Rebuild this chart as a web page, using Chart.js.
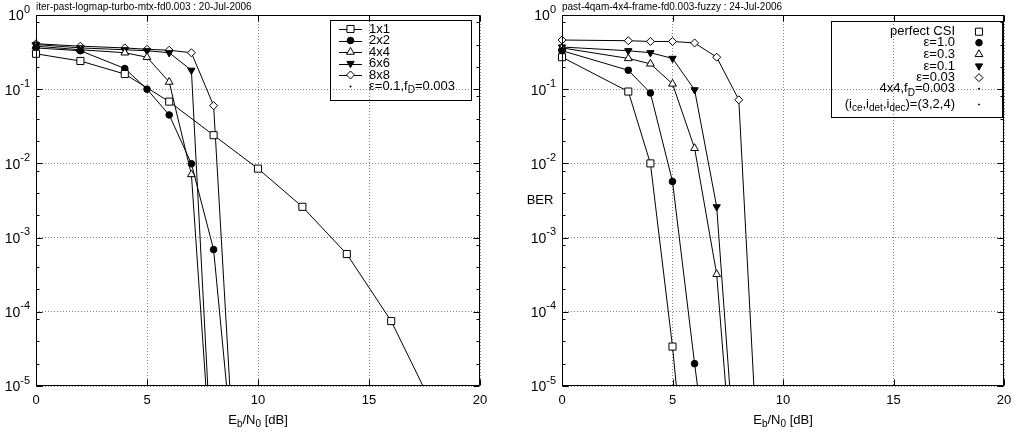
<!doctype html>
<meta charset="utf-8">
<style>
    html, body { margin: 0; padding: 0; background: #fff; }
    #wrap { position: relative; width: 1020px; height: 434px; }
    canvas { position: absolute; top: 0; }
    #left { left: 0; }
    #right { left: 510px; }
</style>
<div id="wrap">
    <canvas id="left" width="510" height="434"></canvas>
    <canvas id="right" width="510" height="434"></canvas>
</div>
<script src="https://cdn.jsdelivr.net/npm/chart.js@4.4.8/dist/chart.umd.min.js"></script>
<script>
    // left panel: MIMO sizes, eps=0.1, fD=0.003
    const snrLeft = [0, 2, 4, 5, 6, 7, 8, 9];
    const snr1x1 = [0, 2, 4, 6, 8, 10, 12, 14, 16, 18];
    const ber1x1 = [0.30, 0.24, 0.16, 0.068, 0.024, 0.0085, 0.0026, 0.0006, 0.000075, 0.0000045];
    const ber2x2 = [0.36, 0.33, 0.19, 0.10, 0.045, 0.0099, 0.00069, 5e-7];
    const ber4x4 = [0.38, 0.34, 0.31, 0.27, 0.125, 0.0071, 3e-7];
    const ber6x6 = [0.40, 0.36, 0.34, 0.33, 0.31, 0.18, 3e-7];
    const ber8x8 = [0.41, 0.38, 0.36, 0.345, 0.335, 0.31, 0.06, 4e-7];

    // right panel: 4x4 with channel estimation error eps
    const snrRight = [0, 3, 4, 5, 6, 7, 8, 9];
    const berPerfect = [0.27, 0.093, 0.010, 3.4e-5, 3e-8];
    const berEps10 = [0.33, 0.18, 0.089, 0.0057, 2e-5, 1e-7];
    const berEps03 = [0.36, 0.26, 0.22, 0.118, 0.016, 3.2e-4, 6e-8];
    const berEps01 = [0.37, 0.33, 0.31, 0.26, 0.098, 2.6e-3, 2e-7];
    const berEps003 = [0.46, 0.45, 0.44, 0.44, 0.42, 0.27, 0.072, 1.6e-7];

    const berTicks = [1, 1e-1, 1e-2, 1e-3, 1e-4, 1e-5];
    const berTickLabels = ["10^{0}", "10^{-1}", "10^{-2}", "10^{-3}", "10^{-4}", "10^{-5}"];
    const snrTicks = [0, 5, 10, 15, 20];

    const labelsLeft = ["1x1", "2x2", "4x4", "6x6", "8x8", "ε=0.1,f_{D}=0.003"];
    const labelsRight = ["perfect CSI", "ε=1.0", "ε=0.3", "ε=0.1", "ε=0.03", "4x4,f_{D}=0.003", "(i_{ce},i_{det},i_{dec})=(3,2,4)"];

    const FONT = '"Liberation Sans", Arial, sans-serif';
    const markers = {
        square: {pointStyle: "rect", radius: 5, rotation: 0, fill: "#fff"},
        circle: {pointStyle: "circle", radius: 3.3, rotation: 0, fill: "#000"},
        triUp: {pointStyle: "triangle", radius: 4.5, rotation: 0, fill: "#fff"},
        triDown: {pointStyle: "triangle", radius: 4.2, rotation: 180, fill: "#000"},
        diamond: {pointStyle: "rectRot", radius: 4, rotation: 0, fill: "#fff"},
        dot: {pointStyle: "circle", radius: 0.6, rotation: 0, fill: "#000"}
    };

    function pts(xs, ys) {
        return ys.map((y, i) => ({x: xs[i], y}));
    }

    function parseRich(str) {
        const parts = [];
        str.split(/(_\{[^}]*\}|\^\{[^}]*\})/).forEach(s => {
            if (!s) return;
            if (s[0] === "_") parts.push({t: s.slice(2, -1), sub: true});
            else if (s[0] === "^") parts.push({t: s.slice(2, -1), sup: true});
            else parts.push({t: s});
        });
        return parts;
    }

    function drawRich(ctx, str, x, y, align, size) {
        const parts = parseRich(str);
        const small = Math.round(size * 0.75);
        let w = 0;
        parts.forEach(p => {
            ctx.font = (p.sub || p.sup ? small : size) + "px " + FONT;
            p.w = ctx.measureText(p.t).width;
            w += p.w;
        });
        let cx = align === "right" ? x - w : align === "center" ? x - w / 2 : x;
        ctx.textAlign = "left";
        ctx.textBaseline = "middle";
        ctx.fillStyle = "#000";
        parts.forEach(p => {
            ctx.font = (p.sub || p.sup ? small : size) + "px " + FONT;
            const dy = p.sub ? size * 0.32 : p.sup ? -size * 0.5 : 0;
            ctx.fillText(p.t, cx, y + dy);
            cx += p.w;
        });
    }

    function drawMarker(ctx, m, x, y) {
        ctx.save();
        ctx.fillStyle = m.fill;
        ctx.strokeStyle = "#000";
        ctx.lineWidth = 1;
        Chart.helpers.drawPoint(ctx, {pointStyle: m.pointStyle, rotation: m.rotation, radius: m.radius, borderWidth: 1}, x, y);
        ctx.restore();
    }

    const framePlugin = {
        id: "frame",
        afterDatasetsDraw(chart, args, opts) {
            const {ctx, chartArea: a, scales: {x, y}} = chart;
            const L = Math.round(a.left) + 0.5, R = Math.round(a.right) - 0.5;
            const T = Math.round(a.top) + 0.5, B = Math.round(a.bottom) - 0.5;
            ctx.save();
            ctx.strokeStyle = "#000";
            ctx.lineWidth = 1;
            ctx.beginPath();
            ctx.rect(L, T, R - L, B - T);
            // y ticks, mirrored
            berTicks.forEach(v => {
                const py = Math.round(y.getPixelForValue(v)) + 0.5;
                ctx.moveTo(L, py); ctx.lineTo(L + 6, py);
                ctx.moveTo(R, py); ctx.lineTo(R - 6, py);
                if (v > 1e-5) {
                    [2, 4, 8].forEach(m => {
                        const my = Math.round(y.getPixelForValue(v * m / 10)) + 0.5;
                        ctx.moveTo(L, my); ctx.lineTo(L + 3, my);
                        ctx.moveTo(R, my); ctx.lineTo(R - 3, my);
                    });
                }
            });
            snrTicks.forEach(v => {
                const px = Math.round(x.getPixelForValue(v)) + 0.5;
                ctx.moveTo(px, B); ctx.lineTo(px, B - 6);
                ctx.moveTo(px, T); ctx.lineTo(px, T + 6);
            });
            ctx.stroke();

            berTicks.forEach((v, i) => {
                drawRich(ctx, berTickLabels[i], a.left - 6, y.getPixelForValue(v) + 1.5, "right", 14);
            });
            snrTicks.forEach(v => {
                drawRich(ctx, String(v), x.getPixelForValue(v), 400, "center", 13);
            });
            drawRich(ctx, "E_{b}/N_{0} [dB]", (a.left + a.right) / 2, 420, "center", 13);
            if (opts.yTitle) drawRich(ctx, opts.yTitle, opts.yTitleX, (a.top + a.bottom) / 2, "center", 13);
            drawRich(ctx, opts.title, a.left, 7, "left", 10);

            // key
            const k = opts.key;
            ctx.strokeStyle = "#000";
            ctx.lineWidth = 1;
            ctx.strokeRect(k.box[0] + 0.5, k.box[1] + 0.5, k.box[2] - k.box[0], k.box[3] - k.box[1]);
            chart.data.datasets.forEach((ds, i) => {
                const ry = k.rows[i];
                if (k.lines && ds.showSample) {
                    ctx.beginPath();
                    ctx.moveTo(k.lineFrom, Math.round(ry) + 0.5);
                    ctx.lineTo(k.lineTo, Math.round(ry) + 0.5);
                    ctx.stroke();
                }
                drawMarker(ctx, markers[ds.marker], k.markerX, ry);
                drawRich(ctx, ds.label, k.textX, ry, k.align, 13);
            });
            ctx.restore();
        }
    };

    function buildDatasets(series) {
        return series.map(s => {
            const m = markers[s.marker];
            return {
                label: s.label,
                marker: s.marker,
                showSample: s.marker !== "dot",
                data: s.data,
                borderColor: "#000",
                borderWidth: s.data.length ? 1 : 0,
                tension: 0,
                fill: false,
                pointStyle: m.pointStyle,
                pointRotation: m.rotation,
                pointRadius: m.radius,
                pointBackgroundColor: m.fill,
                pointBorderColor: "#000",
                pointBorderWidth: 1,
                clip: {left: 8, top: 8, right: 8, bottom: 0}
            };
        });
    }

    function makeChart(id, series, padding, frame) {
        return new Chart(document.getElementById(id), {
            type: "line",
            data: {datasets: buildDatasets(series)},
            plugins: [framePlugin],
            options: {
                responsive: false,
                animation: false,
                events: [],
                layout: {padding},
                plugins: {legend: {display: false}, tooltip: {enabled: false}, frame},
                scales: {
                    x: {
                        type: "linear",
                        min: 0,
                        max: 20,
                        afterFit: s => { s.height = 0; },
                        afterBuildTicks: s => { s.ticks = snrTicks.map(v => ({value: v})); },
                        border: {display: false, dash: [1, 2]},
                        grid: {color: "#808080", drawTicks: false},
                        ticks: {display: false}
                    },
                    y: {
                        type: "logarithmic",
                        min: 1e-5,
                        max: 1,
                        afterFit: s => { s.width = 0; },
                        afterBuildTicks: s => { s.ticks = berTicks.map(v => ({value: v})); },
                        border: {display: false, dash: [1, 2]},
                        grid: {color: "#808080", drawTicks: false},
                        ticks: {display: false}
                    }
                }
            }
        });
    }

    makeChart("left", [
        {label: labelsLeft[0], marker: "square", data: pts(snr1x1, ber1x1)},
        {label: labelsLeft[1], marker: "circle", data: pts(snrLeft, ber2x2)},
        {label: labelsLeft[2], marker: "triUp", data: pts(snrLeft, ber4x4)},
        {label: labelsLeft[3], marker: "triDown", data: pts(snrLeft, ber6x6)},
        {label: labelsLeft[4], marker: "diamond", data: pts(snrLeft, ber8x8)},
        {label: labelsLeft[5], marker: "dot", data: []}
    ], {left: 36, right: 30, top: 15, bottom: 48}, {
        title: "iter-past-logmap-turbo-mtx-fd0.003 : 20-Jul-2006",
        key: {
            box: [330, 20, 471, 100],
            rows: [29, 40.5, 52, 63.5, 75, 86.5],
            lines: true, lineFrom: 339, lineTo: 362, markerX: 350.5,
            textX: 369, align: "left"
        }
    });

    makeChart("right", [
        {label: labelsRight[0], marker: "square", data: pts(snrRight, berPerfect)},
        {label: labelsRight[1], marker: "circle", data: pts(snrRight, berEps10)},
        {label: labelsRight[2], marker: "triUp", data: pts(snrRight, berEps03)},
        {label: labelsRight[3], marker: "triDown", data: pts(snrRight, berEps01)},
        {label: labelsRight[4], marker: "diamond", data: pts(snrRight, berEps003)},
        {label: labelsRight[5], marker: "dot", data: []},
        {label: labelsRight[6], marker: "dot", data: []}
    ], {left: 52, right: 16, top: 15, bottom: 48}, {
        title: "past-4qam-4x4-frame-fd0.003-fuzzy : 24-Jul-2006",
        yTitle: "BER",
        yTitleX: 30,
        key: {
            box: [321, 21, 492, 117],
            rows: [31.7, 42.7, 54.3, 66, 77.7, 88.7, 104.5],
            lines: false, markerX: 469,
            textX: 445, align: "right"
        }
    });
</script>
